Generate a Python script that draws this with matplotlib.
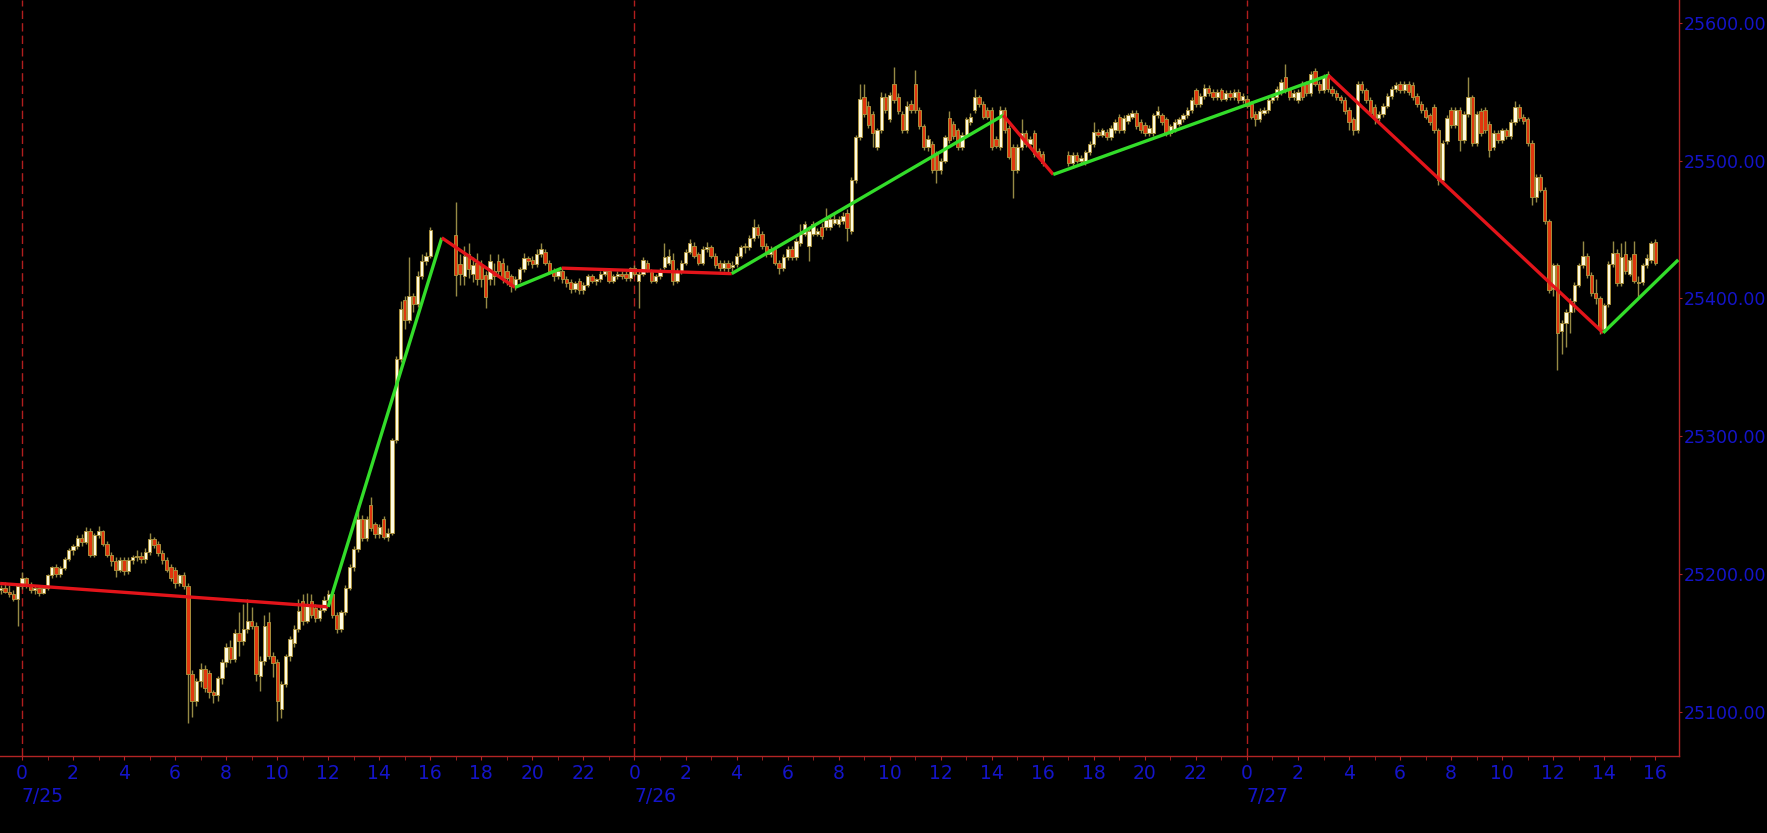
import numpy as np
import pandas as pd
import matplotlib
matplotlib.use('Agg')
import matplotlib.pyplot as plt
from matplotlib.transforms import blended_transform_factory

# 10-minute bars from 7/24 23:10 to 7/27 16:00, market shut 16:10-16:50
slots = pd.date_range('2018-07-24 23:10', '2018-07-27 16:00', freq='10min')
slots = slots[~((slots.hour == 16) & (slots.minute > 0))]
hours = ((slots - pd.Timestamp('2018-07-25')) / pd.Timedelta(hours=1)).to_numpy()

# one row per hour (hours since 7/25 0:00)
opens = [
    25188, 25190, 25187, 25185, 25182,
    25191, 25197, 25192, 25188, 25190, 25186,
    25190, 25199, 25205, 25200, 25204, 25211,
    25217, 25220, 25226, 25223, 25231, 25214,
    25228, 25231, 25222, 25214, 25209, 25203,
    25210, 25202, 25210, 25212, 25213, 25211,
    25216, 25225, 25222, 25215, 25210, 25205,
    25203, 25193, 25199, 25191, 25127, 25108,
    25122, 25131, 25128, 25114, 25112, 25124,
    25136, 25147, 25138, 25157, 25151, 25160,
    25166, 25162, 25126, 25137, 25165, 25140,
    25136, 25102, 25120, 25140, 25150, 25160,
    25180, 25166, 25180, 25175, 25168, 25174,
    25181, 25185, 25170, 25160, 25172, 25190,
    25205, 25218, 25240, 25226, 25250, 25236,
    25229, 25240, 25227, 25230, 25297, 25356,
    25399, 25384, 25402, 25396, 25416, 25427,
    25431,
    25446, 25425, 25416, 25432, 25418, 25426,
    25424, 25417, 25414, 25420, 25427, 25426,
    25420, 25416, 25409, 25414, 25421, 25429,
    25428, 25425, 25432, 25434, 25426, 25420,
    25416, 25420, 25414, 25412, 25407, 25413,
    25406, 25410, 25416, 25413, 25414, 25418,
    25420, 25413, 25416, 25418, 25418, 25415,
    25422, 25413, 25418, 25426, 25419, 25413,
    25416, 25423, 25426, 25428, 25413, 25420,
    25426, 25434, 25438, 25432, 25426, 25436,
    25437, 25431, 25426, 25422, 25426, 25423,
    25425, 25431, 25437, 25437, 25444, 25452,
    25447, 25438, 25432, 25436, 25426, 25422,
    25430, 25436, 25430, 25440, 25447, 25438,
    25447, 25447, 25452, 25452, 25452, 25455,
    25454, 25456, 25462, 25449, 25486, 25517,
    25546, 25540, 25534, 25510, 25522, 25546,
    25530, 25556, 25546, 25534, 25522, 25541,
    25556, 25537, 25525, 25510, 25512, 25505,
    25493, 25500, 25531, 25527, 25522, 25510,
    25519, 25528, 25537, 25546, 25541, 25537,
    25537, 25516, 25510, 25537, 25524, 25510,
    25493, 25510, 25520, 25512, 25520, 25507,
    25505,
    25504, 25498, 25504, 25500, 25500, 25506,
    25512, 25521, 25519, 25521, 25517, 25522,
    25532, 25522, 25529, 25532, 25535, 25528,
    25526, 25520, 25520, 25533, 25533, 25530,
    25520, 25523, 25527, 25530, 25533, 25537,
    25551, 25541, 25547, 25553, 25550, 25546,
    25551, 25545, 25549, 25546, 25550, 25544,
    25545, 25541, 25534, 25530, 25535, 25537,
    25544, 25546, 25550, 25561, 25551, 25546,
    25544, 25556, 25556, 25549, 25565, 25556,
    25551, 25563, 25552, 25549, 25546, 25544,
    25537, 25530, 25522, 25556, 25551, 25544,
    25539, 25531, 25534, 25540, 25547, 25552,
    25556, 25551, 25556, 25555, 25547, 25541,
    25537, 25533, 25539, 25522, 25486, 25514,
    25537, 25526, 25537, 25515, 25534, 25546,
    25513, 25536, 25537, 25527, 25510, 25520,
    25515, 25522, 25518, 25528, 25539, 25532,
    25530, 25513, 25474, 25488, 25479, 25456,
    25407, 25424, 25376, 25382, 25390, 25398,
    25410, 25424, 25431, 25417, 25404, 25400,
    25378, 25396, 25425, 25433, 25411, 25432,
    25418, 25432, 25411, 25412, 25424, 25428,
    25441,
]
highs = [
    25192, 25194, 25192, 25188, 25192,
    25201, 25198, 25194, 25192, 25191, 25192,
    25200, 25206, 25207, 25206, 25212, 25219,
    25222, 25228, 25229, 25234, 25233, 25230,
    25235, 25232, 25224, 25216, 25212, 25212,
    25212, 25212, 25214, 25217, 25216, 25219,
    25230, 25227, 25224, 25217, 25212, 25207,
    25205, 25200, 25201, 25193, 25130, 25124,
    25135, 25134, 25130, 25116, 25126, 25138,
    25150, 25152, 25160, 25172, 25178, 25182,
    25176, 25165, 25140, 25170, 25172, 25143,
    25138, 25122, 25142, 25155, 25163, 25182,
    25185, 25186, 25185, 25178, 25177, 25184,
    25188, 25187, 25172, 25174, 25192, 25207,
    25220, 25250, 25243, 25242, 25256, 25238,
    25236, 25242, 25233, 25299, 25358, 25398,
    25402, 25430, 25404, 25420, 25432, 25434,
    25452,
    25470, 25432, 25438, 25440, 25430, 25433,
    25428, 25420, 25432, 25426, 25432, 25429,
    25424, 25418, 25416, 25423, 25433, 25431,
    25431, 25436, 25440, 25436, 25428, 25422,
    25422, 25422, 25416, 25414, 25413, 25415,
    25412, 25418, 25418, 25415, 25420, 25422,
    25422, 25418, 25420, 25420, 25420, 25423,
    25424, 25420, 25430, 25428, 25421, 25418,
    25422, 25440, 25436, 25433, 25422, 25428,
    25436, 25443, 25441, 25434, 25438, 25441,
    25439, 25433, 25428, 25428, 25428, 25427,
    25433, 25439, 25440, 25446, 25458, 25454,
    25449, 25440, 25438, 25438, 25428, 25432,
    25438, 25438, 25444, 25454, 25456, 25451,
    25456, 25451, 25455, 25466, 25460, 25462,
    25460, 25463, 25465, 25488, 25519, 25556,
    25556, 25543, 25536, 25524, 25550, 25549,
    25550, 25568, 25549, 25536, 25543, 25544,
    25566, 25539, 25527, 25519, 25514, 25507,
    25502, 25519, 25536, 25529, 25524, 25521,
    25532, 25535, 25552, 25548, 25543, 25539,
    25539, 25518, 25540, 25539, 25526, 25512,
    25512, 25530, 25522, 25518, 25522, 25509,
    25507,
    25507, 25506, 25506, 25504, 25508, 25514,
    25528, 25523, 25524, 25523, 25526, 25530,
    25534, 25533, 25535, 25537, 25537, 25530,
    25528, 25526, 25535, 25540, 25535, 25532,
    25527, 25530, 25532, 25535, 25539, 25546,
    25553, 25549, 25556, 25555, 25552, 25552,
    25553, 25551, 25551, 25552, 25552, 25549,
    25548, 25543, 25536, 25538, 25539, 25546,
    25548, 25554, 25559, 25570, 25553, 25551,
    25552, 25558, 25558, 25565, 25567, 25558,
    25563, 25565, 25554, 25551, 25548, 25546,
    25539, 25532, 25558, 25558, 25553, 25546,
    25541, 25536, 25542, 25549, 25554, 25557,
    25558, 25558, 25558, 25557, 25549, 25543,
    25539, 25535, 25541, 25524, 25515, 25533,
    25539, 25539, 25539, 25536, 25561, 25548,
    25536, 25538, 25539, 25529, 25522, 25522,
    25524, 25524, 25530, 25543, 25541, 25534,
    25532, 25515, 25490, 25490, 25481, 25458,
    25426, 25426, 25384, 25392, 25400, 25412,
    25426, 25442, 25433, 25419, 25414, 25402,
    25397, 25427, 25442, 25436, 25440, 25442,
    25430, 25442, 25416, 25426, 25432, 25442,
    25443,
]
lows = [
    25185, 25186, 25183, 25180, 25162,
    25189, 25190, 25186, 25185, 25184, 25185,
    25188, 25197, 25198, 25198, 25203, 25209,
    25214, 25218, 25220, 25222, 25212, 25212,
    25226, 25220, 25212, 25206, 25198, 25201,
    25199, 25200, 25207, 25209, 25208, 25208,
    25214, 25219, 25213, 25207, 25201, 25195,
    25190, 25191, 25189, 25092, 25096, 25104,
    25118, 25114, 25110, 25106, 25108, 25120,
    25132, 25135, 25136, 25140, 25148, 25157,
    25160, 25122, 25115, 25134, 25138, 25125,
    25093, 25095, 25118, 25137, 25147, 25158,
    25163, 25164, 25168, 25165, 25166, 25172,
    25178, 25168, 25157, 25158, 25170, 25188,
    25202, 25216, 25224, 25224, 25231, 25226,
    25226, 25225, 25224, 25228, 25295, 25354,
    25378, 25382, 25390, 25394, 25414, 25424,
    25429,
    25402, 25410, 25410, 25415, 25412, 25410,
    25408, 25393, 25410, 25410, 25416, 25411,
    25410, 25405, 25406, 25412, 25419, 25424,
    25422, 25423, 25430, 25424, 25418, 25413,
    25414, 25411, 25408, 25404, 25405, 25403,
    25403, 25408, 25411, 25410, 25412, 25416,
    25411, 25411, 25414, 25414, 25413, 25413,
    25416, 25393, 25416, 25419, 25411, 25411,
    25414, 25421, 25424, 25410, 25411, 25418,
    25424, 25432, 25429, 25424, 25424, 25434,
    25429, 25422, 25420, 25420, 25419, 25420,
    25423, 25429, 25433, 25435, 25442, 25444,
    25436, 25430, 25430, 25424, 25418, 25420,
    25428, 25428, 25428, 25438, 25445, 25427,
    25445, 25445, 25443, 25450, 25450, 25453,
    25452, 25454, 25442, 25447, 25484, 25515,
    25532, 25524, 25510, 25508, 25520, 25535,
    25528, 25542, 25534, 25520, 25520, 25535,
    25535, 25523, 25508, 25507, 25491, 25484,
    25490, 25498, 25513, 25516, 25508, 25508,
    25517, 25526, 25535, 25539, 25530, 25530,
    25508, 25509, 25508, 25520, 25501, 25473,
    25491, 25508, 25510, 25510, 25503, 25501,
    25496,
    25496, 25495, 25498, 25498, 25497, 25504,
    25510, 25517, 25517, 25515, 25515, 25520,
    25520, 25520, 25527, 25530, 25523, 25520,
    25518, 25518, 25518, 25531, 25526, 25518,
    25518, 25521, 25525, 25528, 25531, 25535,
    25539, 25539, 25545, 25547, 25544, 25544,
    25543, 25543, 25544, 25544, 25542, 25542,
    25538, 25530, 25525, 25528, 25533, 25535,
    25542, 25544, 25548, 25549, 25544, 25544,
    25542, 25544, 25547, 25547, 25554, 25549,
    25549, 25550, 25547, 25544, 25542, 25534,
    25522, 25519, 25520, 25549, 25542, 25533,
    25527, 25529, 25532, 25538, 25545, 25550,
    25549, 25549, 25548, 25544, 25539, 25535,
    25530, 25526, 25520, 25482, 25484, 25512,
    25524, 25524, 25507, 25513, 25532, 25511,
    25511, 25518, 25520, 25503, 25508, 25513,
    25513, 25516, 25516, 25526, 25529, 25527,
    25511, 25468, 25470, 25477, 25454, 25404,
    25402, 25348, 25360, 25365, 25375, 25390,
    25408, 25422, 25415, 25402, 25396, 25374,
    25376, 25394, 25423, 25409, 25409, 25418,
    25416, 25411, 25400, 25410, 25422, 25426,
    25424,
]
closes = [
    25190, 25187, 25185, 25182, 25191,
    25197, 25192, 25188, 25190, 25186, 25190,
    25199, 25205, 25200, 25204, 25211, 25217,
    25220, 25226, 25223, 25231, 25214, 25228,
    25231, 25222, 25214, 25209, 25203, 25210,
    25202, 25210, 25212, 25213, 25211, 25216,
    25225, 25221, 25215, 25210, 25203, 25197,
    25193, 25199, 25191, 25127, 25108, 25122,
    25131, 25117, 25114, 25112, 25124, 25136,
    25147, 25138, 25157, 25151, 25160, 25166,
    25162, 25127, 25137, 25162, 25140, 25135,
    25108, 25120, 25140, 25153, 25160, 25173,
    25166, 25178, 25170, 25168, 25174, 25181,
    25185, 25170, 25160, 25172, 25190, 25205,
    25218, 25240, 25226, 25240, 25233, 25229,
    25234, 25227, 25230, 25297, 25356, 25392,
    25384, 25402, 25396, 25416, 25427, 25431,
    25450,
    25417, 25418, 25431, 25421, 25424, 25414,
    25414, 25401, 25427, 25416, 25420, 25415,
    25415, 25409, 25414, 25421, 25429, 25427,
    25425, 25432, 25436, 25426, 25420, 25416,
    25420, 25414, 25411, 25407, 25411, 25406,
    25410, 25416, 25413, 25414, 25418, 25420,
    25413, 25416, 25418, 25416, 25415, 25422,
    25418, 25418, 25428, 25421, 25413, 25416,
    25420, 25430, 25431, 25413, 25420, 25426,
    25434, 25440, 25431, 25426, 25436, 25437,
    25431, 25424, 25422, 25426, 25422, 25424,
    25431, 25437, 25438, 25444, 25452, 25446,
    25438, 25432, 25436, 25426, 25422, 25430,
    25436, 25430, 25442, 25447, 25454, 25449,
    25454, 25449, 25445, 25457, 25458, 25458,
    25458, 25460, 25451, 25486, 25517, 25545,
    25534, 25526, 25520, 25522, 25546, 25537,
    25548, 25544, 25536, 25522, 25540, 25537,
    25537, 25525, 25510, 25516, 25493, 25493,
    25500, 25517, 25515, 25518, 25510, 25519,
    25530, 25532, 25546, 25541, 25532, 25532,
    25510, 25511, 25537, 25522, 25503, 25493,
    25510, 25520, 25512, 25516, 25505, 25503,
    25498,
    25498, 25504, 25500, 25502, 25506, 25512,
    25521, 25519, 25522, 25517, 25524, 25528,
    25522, 25531, 25533, 25535, 25525, 25522,
    25520, 25524, 25533, 25536, 25528, 25520,
    25525, 25528, 25530, 25533, 25537, 25544,
    25541, 25547, 25553, 25549, 25546, 25550,
    25545, 25549, 25546, 25550, 25544, 25547,
    25540, 25532, 25530, 25536, 25537, 25544,
    25546, 25552, 25557, 25551, 25546, 25549,
    25550, 25546, 25549, 25563, 25556, 25551,
    25561, 25552, 25549, 25546, 25544, 25536,
    25528, 25522, 25556, 25551, 25544, 25535,
    25531, 25534, 25540, 25547, 25552, 25555,
    25551, 25556, 25550, 25546, 25541, 25537,
    25532, 25528, 25522, 25486, 25513, 25531,
    25526, 25537, 25515, 25534, 25546, 25513,
    25534, 25520, 25522, 25508, 25520, 25515,
    25522, 25518, 25528, 25539, 25531, 25529,
    25513, 25474, 25488, 25479, 25456, 25406,
    25424, 25375, 25382, 25390, 25398, 25410,
    25424, 25431, 25417, 25404, 25400, 25378,
    25395, 25425, 25433, 25411, 25430, 25420,
    25428, 25413, 25412, 25424, 25429, 25440,
    25426,
]

# zigzag pivots (hour, price)
zz_hours = [-0.86, 12.0, 16.45, 19.32, 21.15, 27.81, 38.45, 40.41, 51.19, 61.96, 64.9]
zz_prices = [25193, 25176, 25444, 25408, 25422, 25418, 25533, 25490, 25562, 25375, 25428]

price_ticks = [25100, 25200, 25300, 25400, 25500, 25600]
day_starts = [0, 24, 48]
day_labels = ['7/25', '7/26', '7/27']

o = np.array(opens, dtype=float)
h = np.array(highs, dtype=float)
l = np.array(lows, dtype=float)
c = np.array(closes, dtype=float)
up = c >= o

RED_LINE = '#b32424'
BLUE = '#1414c8'

fig = plt.figure(figsize=(17.67, 8.33), dpi=100, facecolor='black')
ax = fig.add_axes([0, 0.0924, 0.9502, 0.9076], facecolor='black')

for d in day_starts:
    ax.axvline(d, color='#b01e1e', lw=1, ls=(0, (6, 3)), zorder=1)

ax.vlines(hours, l, h, color='#968a45', lw=1, zorder=2)
ax.bar(hours, np.maximum(np.abs(c - o), 0.9), bottom=np.minimum(o, c), width=0.13,
       color=np.where(up, '#fffbe0', '#e0360e'), edgecolor='#a88f3c',
       linewidth=0.7, zorder=3)

for i in range(len(zz_hours) - 1):
    col = '#33dd2a' if zz_prices[i + 1] > zz_prices[i] else '#e3141a'
    ax.plot(zz_hours[i:i + 2], zz_prices[i:i + 2], color=col, lw=2.4,
            solid_capstyle='butt', zorder=4)

ax.set_xlim(-0.862, 64.93)
ax.set_ylim(25067.7, 25616.7)

for side in ['left', 'top']:
    ax.spines[side].set_visible(False)
for side in ['right', 'bottom']:
    ax.spines[side].set_color(RED_LINE)
    ax.spines[side].set_linewidth(1)

ax.yaxis.tick_right()
ax.set_yticks(price_ticks)
ax.set_yticklabels([f'{v:.2f}' for v in price_ticks])
ax.tick_params(axis='y', color=RED_LINE, labelcolor=BLUE, length=2.5, pad=1,
               labelsize=12.5)

major = np.arange(0, 65, 2)
ax.set_xticks(major)
ax.set_xticklabels([str(int(v) % 24) for v in major])
ax.set_xticks(np.arange(1, 65, 2), minor=True)
ax.tick_params(axis='x', which='both', color=RED_LINE, labelcolor=BLUE,
               length=3, pad=3, labelsize=13.5)

trans = blended_transform_factory(ax.transData, ax.transAxes)
for d, lbl in zip(day_starts, day_labels):
    ax.text(d, -0.054, lbl, transform=trans, ha='left', va='center',
            color=BLUE, fontsize=13.5)

fig.savefig('out.png', dpi=100, facecolor='black')
